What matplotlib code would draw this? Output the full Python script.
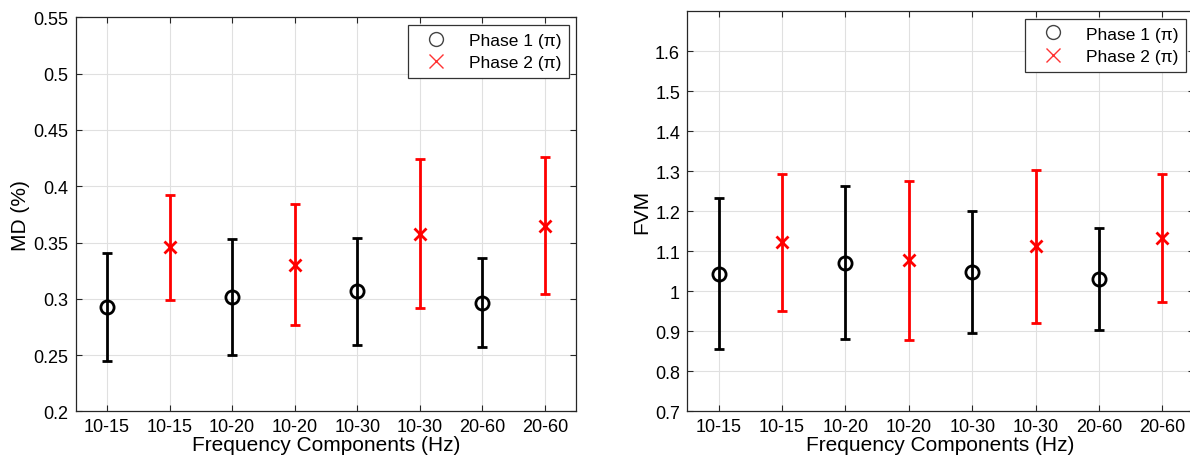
import matplotlib
matplotlib.use("Agg")
import matplotlib.pyplot as plt
from matplotlib.lines import Line2D

plt.rcParams['font.family'] = ['Liberation Sans', 'DejaVu Sans']

categories = ["10-15", "10-15", "10-20", "10-20", "10-30", "10-30", "20-60", "20-60"]

# MD (%) panel
md_p1_mean = [0.293, 0.302, 0.307, 0.296]
md_p1_low = [0.245, 0.250, 0.259, 0.257]
md_p1_high = [0.341, 0.353, 0.354, 0.336]
md_p2_mean = [0.346, 0.330, 0.358, 0.365]
md_p2_low = [0.299, 0.277, 0.292, 0.304]
md_p2_high = [0.392, 0.384, 0.424, 0.426]

# FVM panel
fvm_p1_mean = [1.042, 1.071, 1.048, 1.030]
fvm_p1_low = [0.856, 0.880, 0.894, 0.903]
fvm_p1_high = [1.232, 1.262, 1.200, 1.157]
fvm_p2_mean = [1.122, 1.077, 1.112, 1.133]
fvm_p2_low = [0.951, 0.878, 0.921, 0.973]
fvm_p2_high = [1.292, 1.275, 1.304, 1.294]

md_yticks = [0.2, 0.25, 0.3, 0.35, 0.4, 0.45, 0.5, 0.55]
md_yticklabels = ["0.2", "0.25", "0.3", "0.35", "0.4", "0.45", "0.5", "0.55"]
fvm_yticks = [0.7, 0.8, 0.9, 1.0, 1.1, 1.2, 1.3, 1.4, 1.5, 1.6]
fvm_yticklabels = ["0.7", "0.8", "0.9", "1", "1.1", "1.2", "1.3", "1.4", "1.5", "1.6"]

legend_labels = ["Phase 1 (\u03c0)", "Phase 2 (\u03c0)"]

fig = plt.figure(figsize=(11.9, 4.64), dpi=100)
ax1 = fig.add_axes([0.0636, 0.111, 0.4207, 0.8495])
ax2 = fig.add_axes([0.5773, 0.112, 0.4261, 0.8615])

p1_x = [1, 3, 5, 7]
p2_x = [2, 4, 6, 8]

spine_col = "#262626"

def panel(ax, m1, l1, h1, m2, l2, h2, ylim, yticks, yticklabels, ylabel):
    e1 = [[m - l for m, l in zip(m1, l1)], [h - m for m, h in zip(m1, h1)]]
    e2 = [[m - l for m, l in zip(m2, l2)], [h - m for m, h in zip(m2, h2)]]
    ax.errorbar(p1_x, m1, yerr=e1, fmt='o', color='black', mfc='none',
                mec='black', ms=9.5, mew=2, elinewidth=2, capsize=3.5,
                capthick=2, zorder=3)
    ax.errorbar(p2_x, m2, yerr=e2, fmt='x', color='#ff0000', mec='#ff0000',
                ms=8, mew=2, elinewidth=2, capsize=3.5, capthick=2, zorder=3)
    ax.set_xlim(0.5, 8.5)
    ax.set_ylim(*ylim)
    ax.set_xticks(range(1, 9))
    ax.set_xticklabels(categories)
    ax.set_yticks(yticks)
    ax.set_yticklabels(yticklabels)
    ax.grid(True, color='#e0e0e0', linewidth=0.8, zorder=0)
    ax.set_axisbelow(True)
    ax.tick_params(direction='in', length=4, width=0.8, top=True, right=True,
                   labelsize=13, colors=spine_col, labelcolor='black', pad=5)
    for s in ax.spines.values():
        s.set_color(spine_col)
        s.set_linewidth(0.9)
    ax.set_xlabel("Frequency Components (Hz)", fontsize=15, labelpad=0)
    ax.set_ylabel(ylabel, fontsize=15, labelpad=3)
    h_a = Line2D([], [], ls='none', marker='o', mfc='none', mec='#444444',
                 ms=10, mew=1)
    h_b = Line2D([], [], ls='none', marker='x', color='#ff3333', ms=10, mew=1)
    leg = ax.legend([h_a, h_b], legend_labels, loc='upper right',
                    fontsize=12.5, frameon=True, fancybox=False,
                    borderaxespad=0.45, handletextpad=0.7, labelspacing=0.44,
                    borderpad=0.42, handlelength=2.4)
    leg.get_frame().set_edgecolor('#333333')
    leg.get_frame().set_linewidth(0.9)
    leg.get_frame().set_alpha(1)

panel(ax1, md_p1_mean, md_p1_low, md_p1_high, md_p2_mean, md_p2_low,
      md_p2_high, (0.2, 0.55), md_yticks, md_yticklabels, "MD (%)")
panel(ax2, fvm_p1_mean, fvm_p1_low, fvm_p1_high, fvm_p2_mean, fvm_p2_low,
      fvm_p2_high, (0.7, 1.7), fvm_yticks, fvm_yticklabels, "FVM")

fig.savefig("out.png", dpi=100)
